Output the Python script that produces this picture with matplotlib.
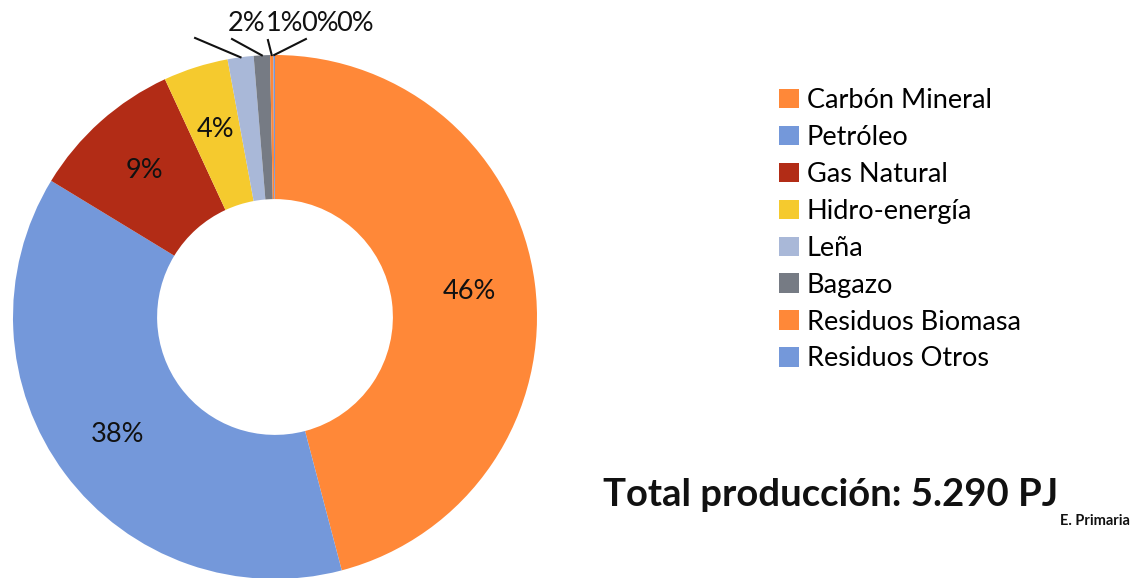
import matplotlib
matplotlib.use('agg')

import matplotlib.pyplot as plt
import numpy as np

# data
fuentes = ["Carbón Mineral", "Petróleo", "Gas Natural", "Hidro-energía",
           "Leña", "Bagazo", "Residuos Biomasa", "Residuos Otros"]
shares = [45.9, 37.8, 9.4, 4.0, 1.6, 1.0, 0.2, 0.1]
colores = ["#FF8838", "#7498DA", "#B22C16", "#F5CA2E",
           "#A9B8D8", "#767B84", "#FF8838", "#7498DA"]
total_txt = "Total producción: 5.290 PJ"
total_sub = "E. Primaria"

plt.rcParams['font.family'] = ['Lato', 'DejaVu Sans']

W, H = 1147, 578
fig = plt.figure(figsize=(W / 100, H / 100), dpi=100)

# pie centre (275, 317) px, radius 262 px
R_px = 262
cx, cy = 275, H - 317
span = 1.2
ax = fig.add_axes([(cx - span * R_px) / W, (cy - span * R_px) / H,
                   2 * span * R_px / W, 2 * span * R_px / H])

wedges, _ = ax.pie(shares, colors=colores, startangle=90, counterclock=False,
                   radius=1.0, wedgeprops=dict(width=0.55, edgecolor='none'))
ax.set_xlim(-span, span)
ax.set_ylim(-span, span)
ax.set_aspect('equal')
ax.axis('off')

# percent labels inside the ring for the big slices
for w, v in zip(wedges, shares):
    mid = np.deg2rad((w.theta1 + w.theta2) / 2)
    if v >= 3:
        r = 0.75
        ax.text(r * np.cos(mid), r * np.sin(mid), "%.0f%%" % v,
                ha='center', va='center', fontsize=19.5, color='#111111')

# small slices: labels above with leader lines
small_text_x = [-0.107, 0.038, 0.172, 0.305]
small_text_y = 1.12
line_start = [(-0.305, 1.065), (-0.164, 1.061), (-0.027, 1.057), (0.118, 1.061)]
small = [i for i, v in enumerate(shares) if v < 3]
for k, i in enumerate(small):
    w = wedges[i]
    mid = np.deg2rad((w.theta1 + w.theta2) / 2)
    ex, ey = 1.0 * np.cos(mid), 1.0 * np.sin(mid)
    sx, sy = line_start[k]
    ax.plot([sx, ex], [sy, ey], color='#111111', lw=1.5, clip_on=False)
    ax.text(small_text_x[k], small_text_y, "%.0f%%" % shares[i],
            ha='center', va='center', fontsize=19.5, color='#111111')

# legend
fig.legend(wedges, fuentes, loc='upper left', bbox_to_anchor=(779 / W, 1 - 88 / H),
           frameon=False, fontsize=19.5, handlelength=0.72, handleheight=0.72,
           handletextpad=0.3, labelspacing=0.44, borderaxespad=0, borderpad=0)

# total text with subscript
t = fig.text(603 / W, 1 - 495 / H, total_txt, fontsize=27.5, fontweight='bold',
             ha='left', va='center', color='#111111')
fig.canvas.draw()
bb = t.get_window_extent()
fig.text(bb.x1 / W + 2 / W, 1 - 521 / H, total_sub, fontsize=10.5, fontweight='bold',
         ha='left', va='center', color='#111111')

fig.savefig("out.png", dpi=100, facecolor='white')
